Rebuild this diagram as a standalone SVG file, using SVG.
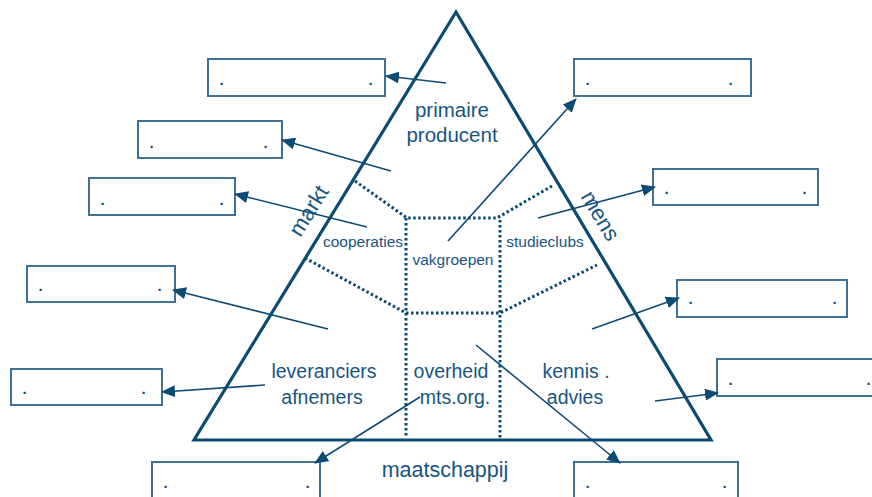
<svg xmlns="http://www.w3.org/2000/svg" width="872" height="497" viewBox="0 0 872 497">
<style>
.tri{fill:none;stroke:#0b4a73;stroke-width:3.2;stroke-linejoin:miter}
.dot{fill:none;stroke:#0b4a73;stroke-width:3;stroke-dasharray:2.5 2.5}
.box{fill:#fff;stroke:#3f7096;stroke-width:2}
.con{stroke:#0d4b75;stroke-width:1.6;fill:none}
.big{font-family:"Liberation Sans",Arial,sans-serif;font-size:19.5px;fill:#175581;text-anchor:middle}
.sm{font-family:"Liberation Sans",Arial,sans-serif;font-size:15.5px;fill:#175581;text-anchor:middle}
.pt{font-family:"Liberation Sans",Arial,sans-serif;font-size:15px;font-weight:bold;fill:#0d4b75}
</style>
<defs>
<marker id="ah" markerUnits="userSpaceOnUse" markerWidth="14" markerHeight="12" refX="13" refY="6" orient="auto">
<path d="M0,0 L14,6 L0,12 Z" fill="#0d4b75"/>
</marker>
</defs>
<rect width="872" height="497" fill="#fff"/>

<g id="pyramid">
<polygon class="tri" points="456,12 194,440 711,440"/>
<polyline class="dot" points="355,181 407,218 497,218 552,186"/>
<polyline class="dot" points="305,258 406,313 500,313 597,265"/>
<line class="dot" x1="406" y1="218" x2="406" y2="438"/>
<line class="dot" x1="500" y1="220" x2="500" y2="438"/>
</g>

<g id="labels">
<text class="big" x="452" y="117" style="font-size:20.5px">primaire</text>
<text class="big" x="452" y="142" style="font-size:20.5px">producent</text>
<text class="sm" x="363" y="247">cooperaties</text>
<text class="sm" x="453" y="265">vakgroepen</text>
<text class="sm" x="545" y="247">studieclubs</text>
<text class="big" x="324" y="378">leveranciers</text>
<text class="big" x="322" y="404">afnemers</text>
<text class="big" x="451" y="378">overheid</text>
<text class="big" x="455" y="404">mts.org.</text>
<text class="big" x="576" y="378">kennis .</text>
<text class="big" x="575" y="404">advies</text>
<text class="big" x="445" y="477" style="font-size:21.5px">maatschappij</text>
<text class="big" transform="translate(309,211) rotate(-58.5)" y="7" style="font-size:22px">markt</text>
<text class="big" transform="translate(600,216) rotate(59.2)" y="7" style="font-size:22px">mens</text>
</g>

<g id="box1"><rect class="box" x="208" y="59" width="177" height="37"/><text class="pt" x="219.5" y="85">.</text><text class="pt" x="368.5" y="85">.</text></g>
<g id="box2"><rect class="box" x="138" y="121" width="144" height="37"/><text class="pt" x="149.5" y="148">.</text><text class="pt" x="263.5" y="148">.</text></g>
<g id="box3"><rect class="box" x="89" y="178" width="146" height="37"/><text class="pt" x="100.5" y="205">.</text><text class="pt" x="219.5" y="205">.</text></g>
<g id="box4"><rect class="box" x="27" y="266" width="148" height="36"/><text class="pt" x="38.5" y="291">.</text><text class="pt" x="157.5" y="291">.</text></g>
<g id="box5"><rect class="box" x="11" y="369" width="151" height="36"/><text class="pt" x="22.5" y="394">.</text><text class="pt" x="141.5" y="394">.</text></g>
<g id="box6"><rect class="box" x="152" y="462" width="168" height="40"/><text class="pt" x="163.5" y="488">.</text><text class="pt" x="305.5" y="488">.</text></g>
<g id="box7"><rect class="box" x="574" y="462" width="164" height="40"/><text class="pt" x="585.5" y="488">.</text><text class="pt" x="722.5" y="488">.</text></g>
<g id="box8"><rect class="box" x="574" y="59" width="177" height="37"/><text class="pt" x="585.5" y="85">.</text><text class="pt" x="728.5" y="85">.</text></g>
<g id="box9"><rect class="box" x="653" y="169" width="165" height="36"/><text class="pt" x="664.5" y="194">.</text><text class="pt" x="802.5" y="194">.</text></g>
<g id="box10"><rect class="box" x="677" y="280" width="170" height="37"/><text class="pt" x="688.5" y="304">.</text><text class="pt" x="832.5" y="304">.</text></g>
<g id="box11"><rect class="box" x="717" y="359" width="162" height="37"/><text class="pt" x="728.5" y="385">.</text><text class="pt" x="866.5" y="385">.</text></g>

<g id="connectors">
<line class="con" x1="446" y1="83" x2="386" y2="76" marker-end="url(#ah)"/>
<line class="con" x1="391" y1="171" x2="282" y2="140" marker-end="url(#ah)"/>
<line class="con" x1="367" y1="227" x2="235" y2="194" marker-end="url(#ah)"/>
<line class="con" x1="328" y1="329" x2="173" y2="290" marker-end="url(#ah)"/>
<line class="con" x1="265" y1="385" x2="162" y2="392" marker-end="url(#ah)"/>
<line class="con" x1="420" y1="397" x2="315" y2="463" marker-end="url(#ah)"/>
<line class="con" x1="476" y1="345" x2="620" y2="463" marker-end="url(#ah)"/>
<line class="con" x1="448" y1="241" x2="576" y2="99" marker-end="url(#ah)"/>
<line class="con" x1="538" y1="218" x2="655" y2="187" marker-end="url(#ah)"/>
<line class="con" x1="592" y1="329" x2="679" y2="298" marker-end="url(#ah)"/>
<line class="con" x1="655" y1="401" x2="718" y2="393" marker-end="url(#ah)"/>
</g>
</svg>
